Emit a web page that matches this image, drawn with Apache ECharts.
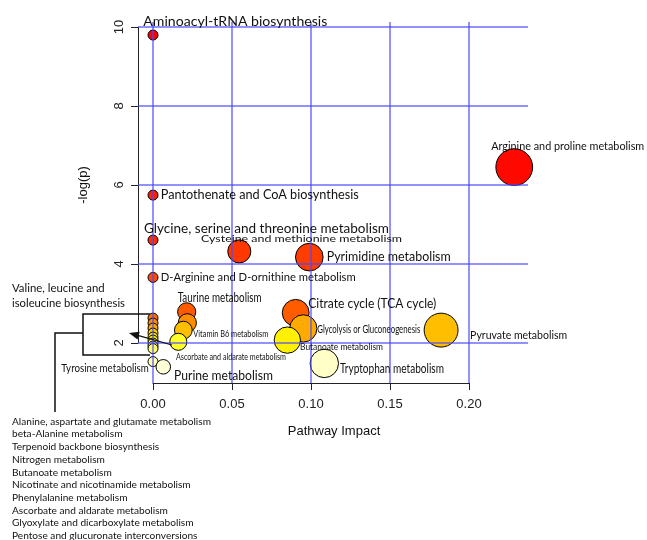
<!DOCTYPE html>
<html><head><meta charset="utf-8">
<script src="https://cdn.jsdelivr.net/npm/echarts@6/dist/echarts.min.js"></script>
<style>html,body{margin:0;padding:0;background:#fff}#c{width:647px;height:540px}</style>
</head><body><div id="c"></div>
<script>
// ---------------- data ----------------
const pathways = [
  'Aminoacyl-tRNA biosynthesis',
  'Arginine and proline metabolism',
  'Pantothenate and CoA biosynthesis',
  'Glycine, serine and threonine metabolism',
  'Cysteine and methionine metabolism',
  'Pyrimidine metabolism',
  'D-Arginine and D-ornithine metabolism',
  'Taurine metabolism',
  'Citrate cycle (TCA cycle)',
  'Valine, leucine and isoleucine biosynthesis',
  'Unlabelled pathway',
  'Alanine, aspartate and glutamate metabolism',
  'beta-Alanine metabolism',
  'Glycolysis or Gluconeogenesis',
  'Vitamin B6 metabolism',
  'Pyruvate metabolism',
  'Terpenoid backbone biosynthesis',
  'Nitrogen metabolism',
  'Butanoate metabolism',
  'Nicotinate and nicotinamide metabolism',
  'Ascorbate and aldarate metabolism',
  'Phenylalanine metabolism',
  'Glyoxylate and dicarboxylate metabolism',
  'Pentose and glucuronate interconversions',
  'Tyrosine metabolism',
  'Tryptophan metabolism',
  'Purine metabolism'
];
const impact = [
  0, 0.2286, 0, 0, 0.0546, 0.0989, 0, 0.0213, 0.0903, 0,
  0.0217, 0, 0, 0.0951, 0.0192, 0.1823, 0, 0, 0.0850, 0,
  0.0160, 0, 0, 0, 0, 0.1084, 0.0065
];
const negLogP = [
  9.80, 6.456, 5.747, 4.608, 4.322, 4.177, 3.663, 2.792, 2.767, 2.633,
  2.514, 2.506, 2.380, 2.372, 2.329, 2.329, 2.253, 2.152, 2.076, 2.076,
  2.033, 2.000, 1.924, 1.861, 1.532, 1.486, 1.400
];
const xTicks = [0, 0.05, 0.10, 0.15, 0.20];
const xTickLabels = ['0.00', '0.05', '0.10', '0.15', '0.20'];
const yTicks = [2, 4, 6, 8, 10];
const yTickLabels = ['2', '4', '6', '8', '10'];
const bracketTitle = ['Valine, leucine and', 'isoleucine biosynthesis'];
const bracketList = [
  'Alanine, aspartate and glutamate metabolism',
  'beta-Alanine metabolism',
  'Terpenoid backbone biosynthesis',
  'Nitrogen metabolism',
  'Butanoate metabolism',
  'Nicotinate and nicotinamide metabolism',
  'Phenylalanine metabolism',
  'Ascorbate and aldarate metabolism',
  'Glyoxylate and dicarboxylate metabolism',
  'Pentose and glucuronate interconversions'
];
const xAxisTitle = 'Pathway Impact';
const yAxisTitle = '-log(p)';

// ---------------- styling ----------------
const LAB = 'Lato, "Open Sans", sans-serif';
const AX = '"Liberation Sans", Arial, sans-serif';
// label anchor offsets relative to bubble centre, font size, target text width
const labelStyle = {
  'Aminoacyl-tRNA biosynthesis': {dx: -9.7, dy: -14, fs: 14, w: 184},
  'Arginine and proline metabolism': {dx: -23, dy: -21, fs: 12, w: 153},
  'Pantothenate and CoA biosynthesis': {dx: 7.7, dy: 0, fs: 12.6, w: 198},
  'Glycine, serine and threonine metabolism': {dx: -9, dy: -11.7, fs: 13, w: 245},
  'Cysteine and methionine metabolism': {dx: -38.3, dy: -12, fs: 9.3, w: 201},
  'Pyrimidine metabolism': {dx: 17.4, dy: 0.3, fs: 12.6, w: 124},
  'D-Arginine and D-ornithine metabolism': {dx: 7.7, dy: 0, fs: 12.1, w: 195},
  'Taurine metabolism': {dx: -9, dy: -13.4, fs: 12.4, w: 84},
  'Citrate cycle (TCA cycle)': {dx: 12.6, dy: -8.7, fs: 12.6, w: 128},
  'Glycolysis or Gluconeogenesis': {dx: 14, dy: 1.2, fs: 10.7, w: 103},
  'Vitamin B6 metabolism': {dx: 10, dy: 3.3, fs: 10.2, w: 75},
  'Butanoate metabolism': {dx: 12.7, dy: 7.3, fs: 9.3, w: 83},
  'Pyruvate metabolism': {dx: 29, dy: 5, fs: 11.8, w: 97},
  'Ascorbate and aldarate metabolism': {dx: -2.3, dy: 15, fs: 10.2, w: 110},
  'Tyrosine metabolism': {dx: -4.2, dy: 6.8, fs: 12.2, w: 87.6, align: 'right'},
  'Purine metabolism': {dx: 10.7, dy: 8.8, fs: 12.6, w: 99},
  'Tryptophan metabolism': {dx: 15.7, dy: 6, fs: 12.6, w: 104}
};
const colorStops = [
  [1.35, '#ffffe0'], [1.5, '#ffffc4'], [1.55, '#ffffa8'], [1.85, '#ffff70'],
  [2.0, '#ffff38'], [2.04, '#ffff28'], [2.08, '#ffee00'], [2.25, '#ffd000'],
  [2.33, '#ffbf00'], [2.38, '#ffa600'], [2.5, '#ff9000'], [2.63, '#ff7200'],
  [2.78, '#ff5a00'], [3.66, '#ff4a00'], [4.2, '#ff3c00'], [4.6, '#ff2c00'],
  [5.75, '#ff2000'], [6.4, '#ff0800'], [9.8, '#ff0000']
];
function hex2rgb(h) { return [1, 3, 5].map(i => parseInt(h.substr(i, 2), 16)); }
function heat(v) {
  const s = colorStops;
  if (v <= s[0][0]) return s[0][1];
  for (let i = 1; i < s.length; i++) {
    if (v <= s[i][0]) {
      const t = (v - s[i - 1][0]) / (s[i][0] - s[i - 1][0]);
      const a = hex2rgb(s[i - 1][1]), b = hex2rgb(s[i][1]);
      return 'rgb(' + a.map((c, k) => Math.round(c + (b[k] - c) * t)).join(',') + ')';
    }
  }
  return s[s.length - 1][1];
}
const mctx = document.createElement('canvas').getContext('2d');
function measure(text, font) { mctx.font = font; return mctx.measureText(text).width; }
function bubbleSize(imp) { return 10 + 56 * Math.sqrt(imp); }

const data = pathways.map((n, i) => ({
  name: n, value: [impact[i], negLogP[i]],
  symbolSize: bubbleSize(impact[i]),
  itemStyle: {color: heat(negLogP[i])}
}));

// text element fitted to a target width by horizontal scaling
function fitText(t, x, y, fs, w, align, fam) {
  const font = fs + 'px ' + (fam || LAB);
  const sx = w ? w / measure(t, font) : 1;
  return {
    type: 'text', z: 10, x: x, y: y, scaleX: sx,
    style: {text: t, x: 0, y: 0, font: font, fill: '#111', align: align || 'left', verticalAlign: 'middle',
            textAlign: align || 'left', textVerticalAlign: 'middle'}
  };
}
const graphics = [
  {type: 'polyline', z: 1, shape: {points: [[150, 314], [83, 314], [83, 355], [150, 355]]}, style: {stroke: '#111', lineWidth: 1.5, fill: null}},
  {type: 'polyline', z: 1, shape: {points: [[83, 333], [55, 333], [55, 412]]}, style: {stroke: '#111', lineWidth: 1.5, fill: null}},
  fitText(bracketTitle[0], 12, 288.5, 11.8, 92.6),
  fitText(bracketTitle[1], 12, 303.5, 11.8, 113),
  fitText(xAxisTitle, 334, 431, 13, null, 'center', AX),
  Object.assign(fitText(yAxisTitle, 83, 185, 13, null, 'center', AX), {rotation: Math.PI / 2})
];
bracketList.forEach((t, i) => graphics.push(fitText(t, 12, 421.7 + i * 12.7, 9.6, i === 0 ? 199 : null)));
(function arrow() {
  const x0 = 172, y0 = 345, x1 = 129, y1 = 333;
  const L = Math.hypot(x1 - x0, y1 - y0), ux = (x1 - x0) / L, uy = (y1 - y0) / L;
  const hl = 10, hw = 4;
  const bx = x1 - ux * hl, by = y1 - uy * hl;
  graphics.push({type: 'line', z: 10, shape: {x1: x0, y1: y0, x2: bx, y2: by}, style: {stroke: '#111', lineWidth: 1.2}});
  graphics.push({type: 'polygon', z: 10, shape: {points: [[x1, y1], [bx - uy * hw, by + ux * hw], [bx + uy * hw, by - ux * hw]]}, style: {fill: '#111'}});
})();
// list lines share the scale of the first line
(function () {
  const first = graphics.find(g => g.style && g.style.text === bracketList[0]);
  graphics.forEach(g => { if (g.style && bracketList.includes(g.style.text)) g.scaleX = first.scaleX; });
})();

const chart = echarts.init(document.getElementById('c'), null, {renderer: 'canvas'});
chart.setOption({
  animation: false,
  backgroundColor: '#fff',
  grid: [
    {left: 138, top: 22, width: 390, height: 361},
    {left: 153, top: 22, width: 316, height: 361},
    {left: 138, top: 27, width: 100, height: 316}
  ],
  xAxis: [
    {gridIndex: 0, type: 'value', min: -0.0095, max: 0.2373, show: false},
    {gridIndex: 1, type: 'value', min: 0, max: 0.2, interval: 0.05, position: 'bottom',
     axisLine: {show: true, lineStyle: {color: '#222', width: 1}},
     axisTick: {show: true, length: 7, lineStyle: {color: '#222', width: 1}},
     axisLabel: {margin: 15, color: '#222', fontFamily: AX, fontSize: 13, formatter: (v, i) => xTickLabels[i]},
     splitLine: {show: false}},
    {gridIndex: 2, type: 'value', min: 0, max: 1, show: false}
  ],
  yAxis: [
    {gridIndex: 0, type: 'value', min: 0.99, max: 10.13, show: false},
    {gridIndex: 1, type: 'value', min: 0, max: 1, show: false},
    {gridIndex: 2, type: 'value', min: 2, max: 10, interval: 2, position: 'left',
     axisLine: {show: true, lineStyle: {color: '#222', width: 1}},
     axisTick: {show: true, length: 7, lineStyle: {color: '#222', width: 1}},
     axisLabel: {rotate: 90, margin: 12, color: '#222', fontFamily: AX, fontSize: 13, formatter: (v, i) => yTickLabels[i]},
     splitLine: {show: false}}
  ],
  graphic: graphics,
  series: [
    {type: 'scatter', xAxisIndex: 0, yAxisIndex: 0, data: [], z: 1, silent: true,
     markLine: {silent: true, symbol: ['none', 'none'], label: {show: false},
       lineStyle: {color: '#4a4aff', width: 1.5, type: 'solid', opacity: 0.8},
       emphasis: {disabled: true},
       data: xTicks.map(v => ({xAxis: v})).concat(yTicks.map(v => ({yAxis: v})))}},
    {type: 'scatter', xAxisIndex: 0, yAxisIndex: 0, z: 3, data: data,
     itemStyle: {borderColor: '#000', borderWidth: 1, opacity: 1},
     emphasis: {disabled: true}}
  ]
});

// bubble labels, anchored to the bubbles through the chart's own scales
const labelGraphics = [];
pathways.forEach((n, i) => {
  const ls = labelStyle[n];
  if (!ls) return;
  const p = chart.convertToPixel({seriesIndex: 1}, [impact[i], negLogP[i]]);
  labelGraphics.push(fitText(n, p[0] + ls.dx, p[1] + ls.dy, ls.fs, ls.w, ls.align));
});
chart.setOption({graphic: graphics.concat(labelGraphics)});
</script></body></html>
